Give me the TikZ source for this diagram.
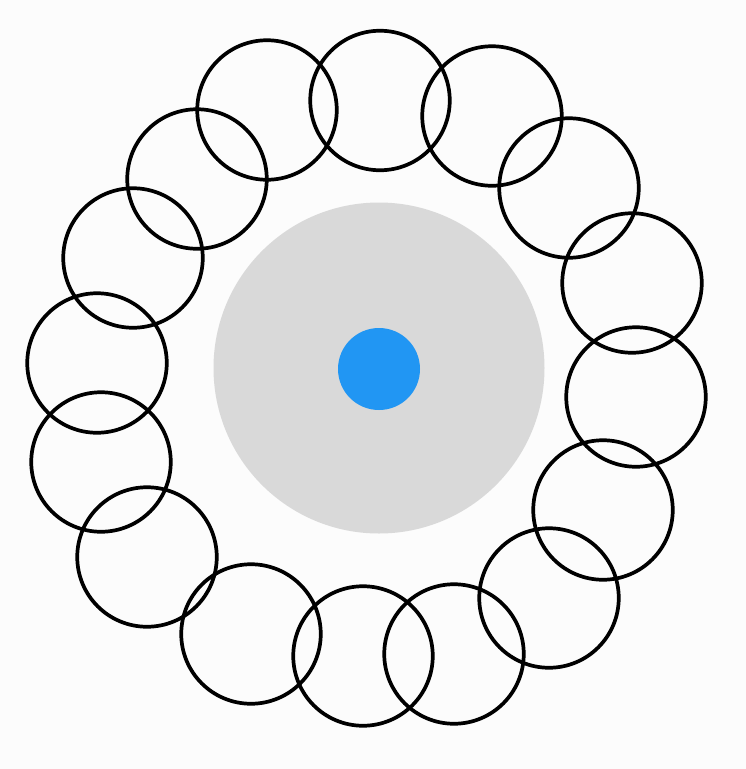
\documentclass[tikz,border=0pt]{standalone}
\definecolor{bg}{HTML}{FCFCFC}
\definecolor{disk}{HTML}{D9D9D9}
\definecolor{dot}{HTML}{2196F3}
\begin{document}
\begin{tikzpicture}[x=1pt,y=-1pt,
  ring/.style={circle,draw=black,line width=3.7pt,minimum size=139.5pt,inner sep=0pt},
  bigdisk/.style={circle,fill=disk,minimum size=331pt,inner sep=0pt},
  centerdot/.style={circle,fill=dot,minimum size=82pt,inner sep=0pt}]
\fill[bg] (0,0) rectangle (746,769);
\useasboundingbox (0,0) rectangle (746,769);
\node[bigdisk] (disk) at (379,368) {};
\node[centerdot] (dot) at (379,369) {};
\foreach \n/\x/\y in {1/380/100.5, 2/492/116, 3/569/188, 4/632/283, 5/636/397, 6/603/510, 7/549/598, 8/454/654, 9/363/656, 10/251/634, 11/147/557, 12/101/462, 13/97/363, 14/133/258, 15/197/179, 16/267/110}
  \node[ring] (c\n) at (\x,\y) {};
\end{tikzpicture}
\end{document}
